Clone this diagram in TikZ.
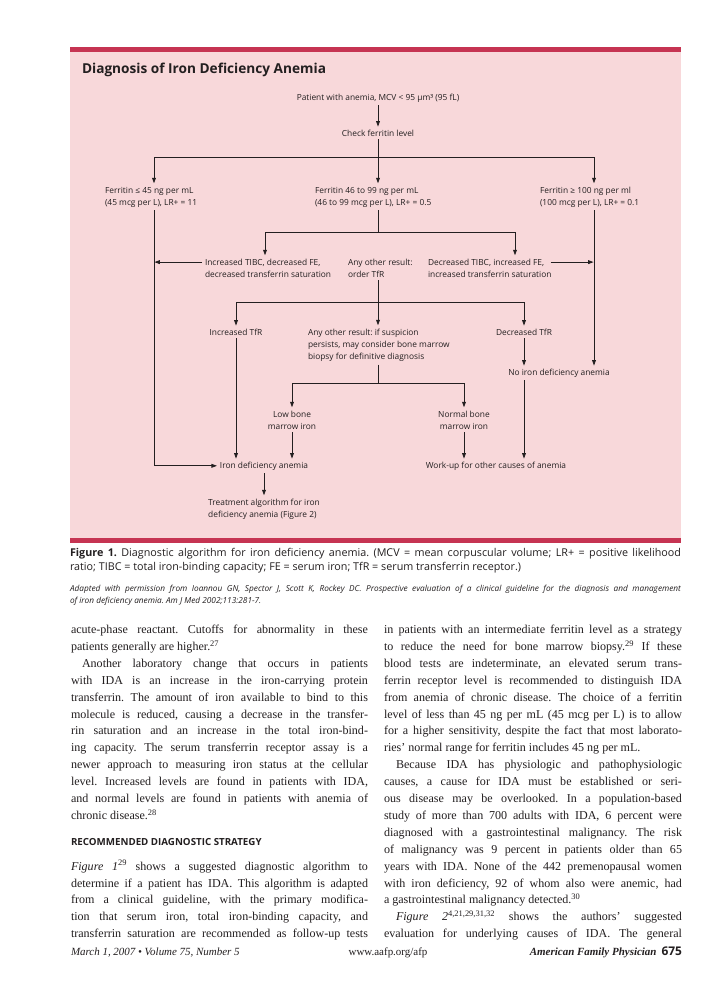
\documentclass[tikz,border=0pt]{standalone}
\usepackage{fontspec}
\setmainfont{Liberation Serif}
\newfontfamily\osans{Open Sans}
\usetikzlibrary{arrows.meta,calc}
\definecolor{pinkbg}{RGB}{248,216,218}
\definecolor{redbar}{RGB}{198,52,82}
\definecolor{ink}{RGB}{35,31,32}
\newsavebox\jlbox
\newcommand\jl[2]{\sbox\jlbox{#2}%
  \ifdim\wd\jlbox>#1\relax
    \pgfmathsetmacro\jlfac{(#1)/(\the\wd\jlbox)}\scalebox{\jlfac}[1]{\usebox\jlbox}%
  \else\makebox[#1][s]{#2}\fi}
\newcommand\fl{\rule{0pt}{6.7bp}}
\frenchspacing
\begin{document}
\begin{tikzpicture}[x=1bp,y=-1bp,
  every node/.style={inner sep=0pt,outer sep=0pt,text=ink},
  dtext/.style={font=\osans\fontsize{8.4}{12.3}\selectfont},
  one/.style={dtext,anchor=base},
  multi/.style={dtext,align=left,anchor=north west},
  body/.style={font=\fontsize{12.1}{13}\selectfont,anchor=base west},
  ln/.style={draw=ink,line width=0.75bp},
  arr/.style={ln,-{Triangle[length=5.5bp,width=3.8bp]},shorten >=3bp},
  gs/.style={shorten <=3bp}]
\useasboundingbox (0,0) rectangle (728,986);
\fill[white] (0,0) rectangle (728,986);
\fill[pinkbg] (70,47) rectangle (681,543);
\fill[redbar] (70,47) rectangle (681,52);
\fill[redbar] (70,538) rectangle (681,543);

\node[font=\osans\bfseries\fontsize{13.7}{16}\selectfont,anchor=base west] (title) at (82,73) {Diagnosis of Iron Deficiency Anemia};

% diagram nodes
\node[one] (pat) at (378,100) {Patient with anemia, MCV < 95 µm³ (95 fL)};
\node[one] (chk) at (378,136) {Check ferritin level};
\node[multi] (f1) at (105,186.3) {\fl Ferritin ≤ 45 ng per mL\\(45 mcg per L), LR+ = 11};
\node[multi] (f2) at (315,186.3) {\fl Ferritin 46 to 99 ng per mL\\(46 to 99 mcg per L), LR+ = 0.5};
\node[multi] (f3) at (540,186.3) {\fl Ferritin ≥ 100 ng per ml\\(100 mcg per L), LR+ = 0.1};
\node[multi] (tup) at (205,258.3) {\fl Increased TIBC, decreased FE,\\decreased transferrin saturation};
\node[multi] (any1) at (348,258.3) {\fl Any other result:\\order TfR};
\node[multi] (tdn) at (428,258.3) {\fl Decreased TIBC, increased FE,\\increased transferrin saturation};
\node[one] (inc) at (236,335) {Increased TfR};
\node[multi] (any2) at (308,328.3) {\fl Any other result: if suspicion\\persists, may consider bone marrow\\biopsy for definitive diagnosis};
\node[one] (dec) at (524,335) {Decreased TfR};
\node[one] (noida) at (559,375) {No iron deficiency anemia};
\node[dtext,align=center,anchor=north] (low) at (292,410.3) {\fl Low bone\\marrow iron};
\node[dtext,align=center,anchor=north] (norm) at (464,410.3) {\fl Normal bone\\marrow iron};
\node[one] (ida) at (264,468) {Iron deficiency anemia};
\node[one] (work) at (496,468) {Work-up for other causes of anemia};
\node[dtext,align=left,anchor=north] (treat) at (264,498.3) {\fl Treatment algorithm for iron\\deficiency anemia (Figure 2)};

\coordinate (xL) at (154,0);
\coordinate (xR) at (594,0);
\coordinate (xa) at (265,0);
\coordinate (xb) at (515,0);
\coordinate (j1) at (378,157);
\coordinate (j2) at (378,232);
\coordinate (j3) at (378,302);
\coordinate (j4) at (378,383);

\draw[arr,gs] (pat) -- (chk);
\draw[ln,gs] (chk) -- (j1);
\draw[arr] (j1) -| (f1.north -| xL);
\draw[arr] (j1) -- (f2.north -| j1);
\draw[arr] (j1) -| (f3.north -| xR);
\draw[arr,gs] (f1.south -| xL) |- (ida.west);
\draw[ln,gs] (f2.south -| j1) -- (j2);
\draw[arr] (j2) -| (tup.north -| xa);
\draw[arr] (j2) -| (tdn.north -| xb);
\coordinate (t1) at ($(tup.north west)+(0,3.8)$);
\coordinate (t2) at ($(tdn.north east)+(-4,3.8)$);
\draw[arr,gs,shorten >=0.4bp] (t1) -- (t1 -| xL);
\draw[arr,gs,shorten >=0.4bp] (t2) -- (t2 -| xR);
\draw[arr,gs] (f3.south -| xR) -- (noida.north -| xR);
\draw[ln,gs] (any1.south -| j3) -- (j3);
\draw[arr] (j3) -| (inc.north);
\draw[arr] (j3) -- (any2.north -| j3);
\draw[arr] (j3) -| (dec.north);
\draw[arr,gs] (inc.south) -- (inc.south |- ida.north);
\draw[arr,gs] (dec.south) -- (dec.south |- noida.north);
\draw[arr,gs] (noida.south -| dec.south) -- (dec.south |- work.north);
\draw[ln,gs] (any2.south -| j4) -- (j4);
\draw[arr] (j4) -| (low.north);
\draw[arr] (j4) -| (norm.north);
\draw[arr,gs] (low.south) -- (low.south |- ida.north);
\draw[arr,gs] (norm.south) -- (norm.south |- work.north);
\draw[arr,gs] (ida.south) -- (treat.north);

% caption
\node[font=\osans\fontsize{10.8}{12}\selectfont,anchor=base west] (cap1) at (70,556) {\jl{611bp}{\textbf{Figure 1.} Diagnostic algorithm for iron deficiency anemia. (MCV = mean corpuscular volume; LR+ = positive likelihood}};
\node[font=\osans\fontsize{10.8}{12}\selectfont,anchor=base west] (cap2) at (70,570) {ratio; TIBC = total iron-binding capacity; FE = serum iron; TfR = serum transferrin receptor.)};
\node[font=\osans\itshape\fontsize{8.3}{9}\selectfont,anchor=base west] (ad1) at (70,591) {\jl{611bp}{Adapted with permission from Ioannou GN, Spector J, Scott K, Rockey DC. Prospective evaluation of a clinical guideline for the diagnosis and management}};
\node[font=\osans\itshape\fontsize{8.3}{9}\selectfont,anchor=base west] (ad2) at (70,603) {of iron deficiency anemia. Am J Med 2002;113:281-7.};

% left column
\node[body] (l1) at (71,633.5) {\jl{297bp}{acute-phase reactant. Cutoffs for abnormality in these}};
\node[body] (l2) at (71,650.4) {patients generally are higher.\textsuperscript{27}};
\node[body] (l3) at (82,667.3) {\jl{286bp}{Another laboratory change that occurs in patients}};
\node[body] (l4) at (71,684.2) {\jl{297bp}{with IDA is an increase in the iron-carrying protein}};
\node[body] (l5) at (71,701.1) {\jl{297bp}{transferrin. The amount of iron available to bind to this}};
\node[body] (l6) at (71,718.0) {\jl{297bp}{molecule is reduced, causing a decrease in the transfer-}};
\node[body] (l7) at (71,734.9) {\jl{297bp}{rin saturation and an increase in the total iron-bind-}};
\node[body] (l8) at (71,751.8) {\jl{297bp}{ing capacity. The serum transferrin receptor assay is a}};
\node[body] (l9) at (71,768.7) {\jl{297bp}{newer approach to measuring iron status at the cellular}};
\node[body] (l10) at (71,785.6) {\jl{297bp}{level. Increased levels are found in patients with IDA,}};
\node[body] (l11) at (71,802.5) {\jl{297bp}{and normal levels are found in patients with anemia of}};
\node[body] (l12) at (71,819.4) {chronic disease.\textsuperscript{28}};
\node[font=\osans\bfseries\fontsize{9.8}{11}\selectfont,anchor=base west] (head) at (71,845.8) {RECOMMENDED DIAGNOSTIC STRATEGY};
\node[body] (l13) at (71,870.1) {\jl{297bp}{\textit{Figure 1}\textsuperscript{29} shows a suggested diagnostic algorithm to}};
\node[body] (l14) at (71,887.0) {\jl{297bp}{determine if a patient has IDA. This algorithm is adapted}};
\node[body] (l15) at (71,903.9) {\jl{297bp}{from a clinical guideline, with the primary modifica-}};
\node[body] (l16) at (71,920.8) {\jl{297bp}{tion that serum iron, total iron-binding capacity, and}};
\node[body] (l17) at (71,937.7) {\jl{297bp}{transferrin saturation are recommended as follow-up tests}};

% right column
\node[body] (r1) at (384,633.5) {\jl{298bp}{in patients with an intermediate ferritin level as a strategy}};
\node[body] (r2) at (384,650.4) {\jl{298bp}{to reduce the need for bone marrow biopsy.\textsuperscript{29} If these}};
\node[body] (r3) at (384,667.3) {\jl{298bp}{blood tests are indeterminate, an elevated serum trans-}};
\node[body] (r4) at (384,684.2) {\jl{298bp}{ferrin receptor level is recommended to distinguish IDA}};
\node[body] (r5) at (384,701.1) {\jl{298bp}{from anemia of chronic disease. The choice of a ferritin}};
\node[body] (r6) at (384,718.0) {\jl{298bp}{level of less than 45 ng per mL (45 mcg per L) is to allow}};
\node[body] (r7) at (384,734.9) {\jl{298bp}{for a higher sensitivity, despite the fact that most laborato-}};
\node[body] (r8) at (384,751.8) {ries’ normal range for ferritin includes 45 ng per mL.};
\node[body] (r9) at (396,768.7) {\jl{286bp}{Because IDA has physiologic and pathophysiologic}};
\node[body] (r10) at (384,785.6) {\jl{298bp}{causes, a cause for IDA must be established or seri-}};
\node[body] (r11) at (384,802.5) {\jl{298bp}{ous disease may be overlooked. In a population-based}};
\node[body] (r12) at (384,819.4) {\jl{298bp}{study of more than 700 adults with IDA, 6 percent were}};
\node[body] (r13) at (384,836.3) {\jl{298bp}{diagnosed with a gastrointestinal malignancy. The risk}};
\node[body] (r14) at (384,853.2) {\jl{298bp}{of malignancy was 9 percent in patients older than 65}};
\node[body] (r15) at (384,870.1) {\jl{298bp}{years with IDA. None of the 442 premenopausal women}};
\node[body] (r16) at (384,887.0) {\jl{298bp}{with iron deficiency, 92 of whom also were anemic, had}};
\node[body] (r17) at (384,903.9) {a gastrointestinal malignancy detected.\textsuperscript{30}};
\node[body] (r18) at (396,920.8) {\jl{286bp}{\textit{Figure 2}\textsuperscript{4,21,29,31,32} shows the authors’ suggested}};
\node[body] (r19) at (384,937.7) {\jl{298bp}{evaluation for underlying causes of IDA. The general}};

% footer
\node[font=\itshape\fontsize{11}{12}\selectfont,anchor=base west] (foot1) at (71,955.5) {March 1, 2007 • Volume 75, Number 5};
\node[font=\fontsize{11}{12}\selectfont,anchor=base] (foot2) at (388,955.5) {www.aafp.org/afp};
\node[font=\osans\bfseries\fontsize{12}{14}\selectfont,anchor=base east] (page) at (682,955.5) {675};
\node[font=\bfseries\itshape\fontsize{11}{12}\selectfont,anchor=base east] (journal) at ($(page.base west)+(-5,0)$) {American Family Physician};
\end{tikzpicture}
\end{document}
